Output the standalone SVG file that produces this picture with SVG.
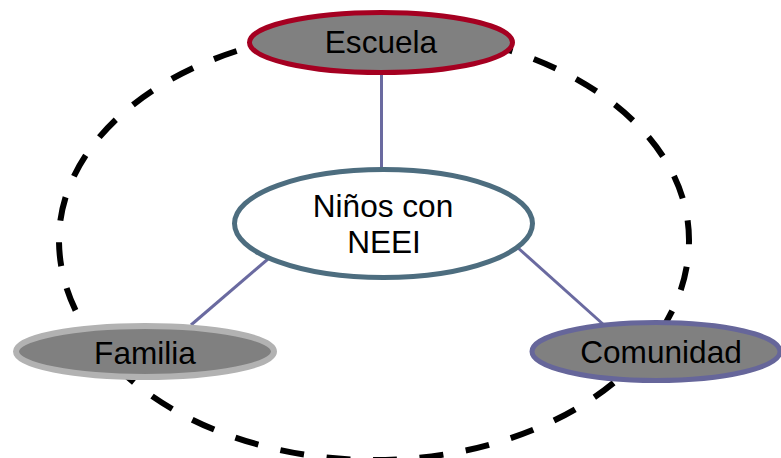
<svg xmlns="http://www.w3.org/2000/svg" width="781" height="458" viewBox="0 0 781 458">
<style>
text{font-family:"Liberation Sans",Arial,sans-serif;font-size:31.6px;fill:#000;text-anchor:middle}
.gray{fill:#808080}
.conn{stroke:#6a6aa0;stroke-width:3;fill:none}
</style>
<rect width="781" height="458" fill="#fff"/>
<g id="boundary">
<path d="M59,240 A315,210 0 0 1 689,240 A315,220 0 0 1 59,240 Z" fill="none" stroke="#000" stroke-width="6" stroke-dasharray="24 22.67" stroke-dashoffset="27.17"/>
</g>
<g id="connectors">
<line class="conn" x1="381.5" y1="74" x2="381.5" y2="170"/>
<line class="conn" x1="268" y1="259" x2="191" y2="325"/>
<line class="conn" x1="517" y1="247" x2="604" y2="325"/>
</g>
<g id="escuela">
<ellipse class="gray" cx="381" cy="42.5" rx="131.5" ry="30" stroke="#a50021" stroke-width="5"/>
<text x="381" y="53">Escuela</text>
</g>
<g id="ninos">
<ellipse cx="383.5" cy="223.5" rx="149" ry="54" fill="#fff" stroke="#4d6d7f" stroke-width="5"/>
<text x="383" y="217">Niños con</text>
<text x="384" y="253">NEEI</text>
</g>
<g id="familia">
<ellipse class="gray" cx="145" cy="351.5" rx="129" ry="25.5" stroke="#b2b2b2" stroke-width="6"/>
<text x="145" y="364">Familia</text>
</g>
<g id="comunidad">
<ellipse class="gray" cx="656" cy="351.5" rx="124" ry="29" stroke="#66669a" stroke-width="5"/>
<text x="661" y="363">Comunidad</text>
</g>
</svg>
